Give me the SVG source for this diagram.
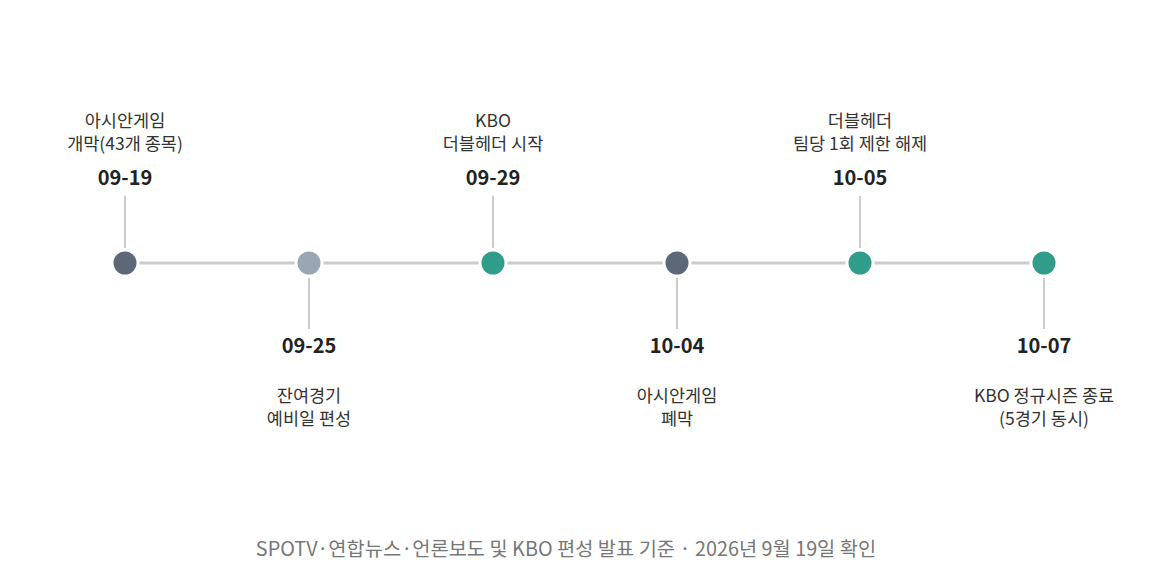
<svg xmlns="http://www.w3.org/2000/svg" width="1169" height="576" viewBox="0 0 1169 576">
<style>
.bg{fill:#ffffff}
.axis{stroke:#cccccc;stroke-width:3;fill:none}
.stem{stroke:#cccccc;stroke-width:2;fill:none}
.dot{stroke:#ffffff;stroke-width:3}
.dark{fill:#5c6778}
.light{fill:#9aa6b3}
.teal{fill:#2f9d89}
.date{font-family:"Noto Sans CJK KR","Noto Sans",sans-serif;font-size:20px;font-weight:700;fill:#222222;text-anchor:middle}
.desc{font-family:"Noto Sans CJK KR","Noto Sans",sans-serif;font-size:17.5px;fill:#333333;text-anchor:middle}
.foot{font-family:"Noto Sans CJK KR","Noto Sans",sans-serif;font-size:19.8px;fill:#777777;text-anchor:middle}
</style>
<rect class="bg" x="0" y="0" width="1169" height="576"/>
<g id="connectors">
<line class="axis" x1="125" y1="263" x2="1044" y2="263"/>
<line class="stem" x1="125" y1="196" x2="125" y2="248"/>
<line class="stem" x1="309" y1="278" x2="309" y2="329"/>
<line class="stem" x1="493" y1="196" x2="493" y2="248"/>
<line class="stem" x1="677" y1="278" x2="677" y2="329"/>
<line class="stem" x1="860" y1="196" x2="860" y2="248"/>
<line class="stem" x1="1044" y1="278" x2="1044" y2="329"/>
</g>
<g id="n0919">
<circle class="dot dark" cx="125" cy="263" r="13"/>
<text class="desc" x="125" y="127"><tspan x="125">아시안게임</tspan><tspan x="125" dy="23">개막(43개 종목)</tspan></text>
<text class="date" x="125" y="185">09-19</text>
</g>
<g id="n0925">
<circle class="dot light" cx="309" cy="263" r="13"/>
<text class="date" x="309" y="353">09-25</text>
<text class="desc" x="309" y="402"><tspan x="309">잔여경기</tspan><tspan x="309" dy="23">예비일 편성</tspan></text>
</g>
<g id="n0929">
<circle class="dot teal" cx="493" cy="263" r="13"/>
<text class="desc" x="493" y="127"><tspan x="493">KBO</tspan><tspan x="493" dy="23">더블헤더 시작</tspan></text>
<text class="date" x="493" y="185">09-29</text>
</g>
<g id="n1004">
<circle class="dot dark" cx="677" cy="263" r="13"/>
<text class="date" x="677" y="353">10-04</text>
<text class="desc" x="677" y="402"><tspan x="677">아시안게임</tspan><tspan x="677" dy="23">폐막</tspan></text>
</g>
<g id="n1005">
<circle class="dot teal" cx="860" cy="263" r="13"/>
<text class="desc" x="860" y="127"><tspan x="860">더블헤더</tspan><tspan x="860" dy="23">팀당 1회 제한 해제</tspan></text>
<text class="date" x="860" y="185">10-05</text>
</g>
<g id="n1007">
<circle class="dot teal" cx="1044" cy="263" r="13"/>
<text class="date" x="1044" y="353">10-07</text>
<text class="desc" x="1044" y="402"><tspan x="1044">KBO 정규시즌 종료</tspan><tspan x="1044" dy="23">(5경기 동시)</tspan></text>
</g>
<text class="foot" x="566" y="556">SPOTV·연합뉴스·언론보도 및 KBO 편성 발표 기준 · 2026년 9월 19일 확인</text>
</svg>
